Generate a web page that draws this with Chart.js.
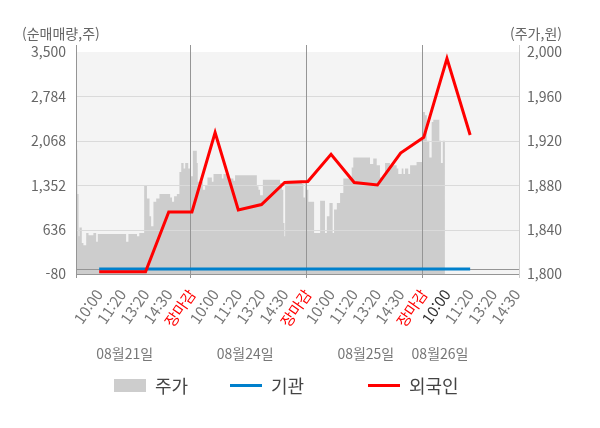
<!DOCTYPE html>
<html lang="ko">
<head>
<meta charset="utf-8">
<title>순매매량 / 주가</title>
<script src="https://cdn.jsdelivr.net/npm/chart.js@4.4.1/dist/chart.umd.min.js"></script>
<style>
  html, body { margin: 0; padding: 0; background: #fff; }
  #wrap { position: relative; width: 600px; height: 428px; }
  #legend { position: absolute; left: 0; top: 373px; width: 600px; height: 24px;
            font-family: 'Noto Sans CJK KR', 'Noto Sans', sans-serif; font-size: 18px; color: #444; }
  .item { position: absolute; top: 0; height: 24px; display: flex; align-items: center; }
  .sw { display: inline-block; width: 32px; margin-right: 9px; }
</style>
</head>
<body>
<div id="wrap">
  <canvas id="chart" width="600" height="428"></canvas>
  <div id="legend">
    <div class="item" style="left:114px"><span class="sw" style="height:13px;background:#cdcdcd"></span>주가</div>
    <div class="item" style="left:230px"><span class="sw" style="height:3px;background:#0080cc"></span>기관</div>
    <div class="item" style="left:368px"><span class="sw" style="height:3px;background:#ff0000"></span>외국인</div>
  </div>
</div>
<script>
// x axis: one slot per label, slot 0 is the left edge
const xLabels = ['', '10:00', '11:20', '13:20', '14:30', '장마감',
  '10:00', '11:20', '13:20', '14:30', '장마감',
  '10:00', '11:20', '13:20', '14:30', '장마감',
  '10:00', '11:20', '13:20', '14:30'];
const currentSlot = 16;
const sessionBreaks = [4.93, 9.93, 14.93];
const dateLabels = ['08월21일', '08월24일', '08월25일', '08월26일'];
const dateAt = [2.1, 7.3, 12.5, 15.7];

const leftTicks = [-80, 636, 1352, 2068, 2784, 3500];
const rightTicks = [1800, 1840, 1880, 1920, 1960, 2000];

// net buying (shares), one value per label slot starting at slot 1
const institution = [0, 0, 0, 0, 0, 0, 0, 0, 0, 0, 0, 0, 0, 0, 0, 0, 0];
const foreigner = [-45, -45, -45, 920, 920, 2200, 952, 1040, 1395, 1412, 1850, 1396, 1355, 1870, 2124, 3394, 2161];

// intraday price (won), step values starting at the given slot position
const priceAt = [0.00, 0.06, 0.11, 0.15, 0.25, 0.32, 0.44, 0.54, 0.75, 0.87, 0.94, 2.16, 2.26, 2.63, 2.73,
  2.94, 3.06, 3.17, 3.24, 3.34, 3.46, 3.60, 4.06, 4.14, 4.23, 4.35, 4.46, 4.54, 4.64, 4.71, 4.84,
  4.93, 5.04, 5.21, 5.25, 5.47, 5.57, 5.67, 5.86, 5.93, 6.29, 6.36, 6.57, 6.79, 6.86, 7.80, 7.87,
  7.94, 8.06, 8.80, 8.88, 8.94, 8.99, 9.02, 9.09, 9.74, 9.81, 9.88,
  9.93, 10.02, 10.27, 10.53, 10.74, 10.82, 10.93, 11.07, 11.13, 11.25, 11.39, 11.53, 11.89, 11.96,
  12.68, 12.82, 12.97, 13.11, 13.33, 13.54, 13.69, 13.83, 13.90, 14.05, 14.12, 14.19, 14.33, 14.41, 14.69,
  14.93, 15.05, 15.13, 15.24, 15.34, 15.41, 15.67, 15.74, 15.82, 15.91];
const price = [1912, 1872, 1834, 1842, 1828, 1826, 1837, 1835, 1837, 1829, 1836, 1829, 1836, 1834, 1837,
  1880, 1868, 1852, 1843, 1865, 1868, 1872, 1869, 1865, 1870, 1872, 1892, 1900, 1895, 1900, 1895,
  1888, 1911, 1900, 1883, 1876, 1880, 1887, 1883, 1890, 1886, 1890, 1886, 1884, 1889, 1879, 1876,
  1871, 1885, 1882, 1876, 1846, 1834, 1881, 1884, 1881, 1869, 1883,
  1876, 1865, 1837, 1866, 1837, 1852, 1864, 1837, 1858, 1864, 1873, 1886, 1896, 1905,
  1899, 1904, 1898, 1887, 1900, 1898, 1898, 1895, 1890, 1895, 1890, 1895, 1890, 1898, 1901,
  1946, 1943, 1920, 1905, 1937, 1939, 1920, 1900, 1920, 1920];

const FONT = "'Noto Sans CJK KR', 'Noto Sans', sans-serif";
Chart.defaults.font.family = FONT;

const slotData = arr => arr.map((v, i) => ({ x: i + 1, y: v }));
const priceData = priceAt.map((t, i) => ({ x: t, y: price[i] }));
const PRICE = 2;

function hline(ctx, x1, x2, y) { ctx.beginPath(); ctx.moveTo(x1, y); ctx.lineTo(x2, y); ctx.stroke(); }
function vline(ctx, x, y1, y2) { ctx.beginPath(); ctx.moveTo(x, y1); ctx.lineTo(x, y2); ctx.stroke(); }

const frame = {
  id: 'frame',
  beforeDraw(chart) {
    const { ctx, chartArea: a } = chart;
    ctx.save();
    ctx.fillStyle = '#f4f4f4';
    ctx.fillRect(a.left, a.top, a.right - a.left, a.bottom - a.top);
    ctx.restore();
  },
  afterDatasetDraw(chart, args) {
    if (args.index !== PRICE) return;
    const { ctx, chartArea: a, scales } = chart;
    const px = v => Math.round(v) + 0.5;
    ctx.save();
    ctx.lineWidth = 1;
    ctx.strokeStyle = '#dadada';
    leftTicks.slice(1, -1).forEach(v => hline(ctx, a.left, a.right, px(scales.y.getPixelForValue(v))));
    ctx.strokeStyle = '#959595';
    hline(ctx, a.left, a.right, px(scales.y.getPixelForValue(0)));
    hline(ctx, a.left, a.right, px(a.bottom));
    sessionBreaks.forEach(v => vline(ctx, px(scales.x.getPixelForValue(v)), a.top - 7, a.bottom + 4));
    vline(ctx, px(a.left), a.top - 7, a.bottom + 4);
    ctx.strokeStyle = '#cfcfcf';
    vline(ctx, px(a.right) - 1, a.top - 7, a.bottom + 4);
    ctx.restore();
  },
  afterDraw(chart) {
    const { ctx, scales } = chart;
    ctx.save();
    ctx.font = '14px ' + FONT;
    ctx.fillStyle = '#666';
    ctx.textBaseline = 'middle';
    ctx.textAlign = 'left';
    ctx.fillText('(순매매량,주)', 22, 34);
    ctx.textAlign = 'right';
    ctx.fillText('(주가,원)', 562, 34);
    ctx.textAlign = 'center';
    ctx.fillStyle = '#777';
    dateLabels.forEach((d, i) => ctx.fillText(d, scales.x.getPixelForValue(dateAt[i]), 354));
    ctx.restore();
  }
};

new Chart(document.getElementById('chart'), {
  data: {
    datasets: [
      { type: 'line', label: '외국인', data: slotData(foreigner), yAxisID: 'y', order: 1,
        borderColor: '#ff0000', borderWidth: 3, pointRadius: 0, tension: 0 },
      { type: 'line', label: '기관', data: slotData(institution), yAxisID: 'y', order: 2,
        borderColor: '#0080cc', borderWidth: 3, pointRadius: 0, tension: 0 },
      { type: 'line', label: '주가', data: priceData, yAxisID: 'y1', order: 3,
        stepped: true, fill: 'start', backgroundColor: '#cdcdcd', borderWidth: 0, pointRadius: 0 }
    ]
  },
  options: {
    responsive: false,
    animation: false,
    layout: { padding: { top: 52, left: 0, right: 0, bottom: 0 } },
    plugins: { legend: { display: false }, tooltip: { enabled: false } },
    scales: {
      x: {
        type: 'linear', min: 0, max: 19.15,
        grid: { display: false, drawTicks: false }, border: { display: false },
        afterBuildTicks: s => { s.ticks = xLabels.map((_, i) => ({ value: i })); },
        afterFit: s => { s.height = 154; },
        ticks: {
          autoSkip: false, minRotation: 55, maxRotation: 55, padding: 12,
          font: { size: 15 },
          color: c => xLabels[c.index] === '장마감' ? '#ff0000' : (c.index === currentSlot ? '#333' : '#777'),
          callback: (v, i) => xLabels[i]
        }
      },
      y: {
        position: 'left', min: -80, max: 3500,
        grid: { display: false, drawTicks: false }, border: { display: false },
        afterBuildTicks: s => { s.ticks = leftTicks.map(v => ({ value: v })); },
        afterFit: s => { s.width = 76; },
        ticks: { padding: 10, font: { size: 14 }, color: '#666',
                 callback: v => v.toLocaleString('en-US') }
      },
      y1: {
        position: 'right', min: 1800, max: 2000,
        grid: { display: false, drawTicks: false }, border: { display: false },
        afterBuildTicks: s => { s.ticks = rightTicks.map(v => ({ value: v })); },
        afterFit: s => { s.width = 80; },
        ticks: { padding: 7, font: { size: 14 }, color: '#666',
                 callback: v => v.toLocaleString('en-US') }
      }
    }
  },
  plugins: [frame]
});
</script>
</body>
</html>
